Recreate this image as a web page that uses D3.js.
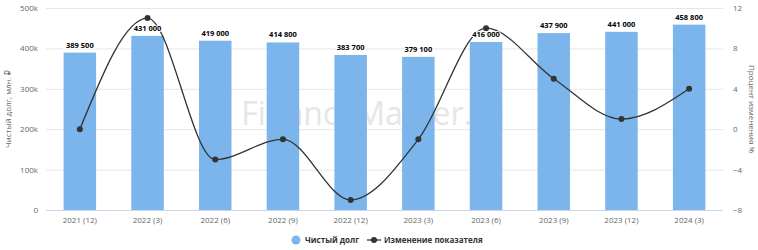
<!DOCTYPE html>
<html>
<head>
<meta charset="utf-8">
<script src="https://cdn.jsdelivr.net/npm/d3@7"></script>
<style>
  body { margin: 0; background: #fff; }
  svg { font-family: "Open Sans", "DejaVu Sans", sans-serif; }
</style>
</head>
<body>
<svg id="chart" width="758" height="250"></svg>
<script>
// data
var categories = ["2021 (12)", "2022 (3)", "2022 (6)", "2022 (9)", "2022 (12)",
                  "2023 (3)", "2023 (6)", "2023 (9)", "2023 (12)", "2024 (3)"];
var netDebt = [389500, 431000, 419000, 414800, 383700, 379100, 416000, 437900, 441000, 458800];
var changePct = [0, 11, -3, -1, -7, -1, 10, 5, 1, 4];
var leftTicks = [0, 100000, 200000, 300000, 400000, 500000];
var leftTickLabels = ["0", "100k", "200k", "300k", "400k", "500k"];
var rightTicks = [-8, -4, 0, 4, 8, 12];

var plotLeft = 46, plotRight = 723, plotTop = 8, plotBottom = 210;

var svg = d3.select("#chart");

var x = d3.scaleBand()
    .domain(categories)
    .range([plotLeft, plotRight])
    .paddingInner(0.52)
    .paddingOuter(0.26);

var y = d3.scaleLinear().domain([0, 500000]).range([plotBottom, plotTop]);
var y2 = d3.scaleLinear().domain([-8, 12]).range([plotBottom, plotTop]);

// watermark
svg.append("text")
    .attr("x", 373).attr("y", 125)
    .attr("text-anchor", "middle")
    .attr("font-size", 32)
    .attr("fill", "#e6e6e6")
    .text("FinanceMarker.ru");

// grid
svg.append("g").selectAll("line")
    .data(leftTicks)
  .enter().append("line")
    .attr("x1", plotLeft).attr("x2", plotRight)
    .attr("y1", function(d) { return y(d) + 0.5; })
    .attr("y2", function(d) { return y(d) + 0.5; })
    .attr("stroke", function(d) { return d === 0 ? "#ccd6eb" : "#e6e6e6"; })
    .attr("stroke-width", 1);

// left axis labels
svg.append("g").selectAll("text")
    .data(leftTicks)
  .enter().append("text")
    .attr("x", 38)
    .attr("y", function(d) { return y(d) + 3; })
    .attr("text-anchor", "end")
    .attr("font-size", 8)
    .attr("fill", "#666")
    .text(function(d, i) { return leftTickLabels[i]; });

// right axis labels
svg.append("g").selectAll("text")
    .data(rightTicks)
  .enter().append("text")
    .attr("x", 733)
    .attr("y", function(d) { return y2(d) + 3; })
    .attr("text-anchor", "start")
    .attr("font-size", 8)
    .attr("fill", "#666")
    .text(function(d) { return d < 0 ? "\u2212" + Math.abs(d) : d; });

// axis titles
svg.append("text")
    .attr("transform", "translate(11," + ((plotTop + plotBottom) / 2) + ") rotate(-90)")
    .attr("text-anchor", "middle")
    .attr("font-size", 8)
    .attr("fill", "#666")
    .text("Чистый долг, млн. ₽");

svg.append("text")
    .attr("transform", "translate(749," + ((plotTop + plotBottom) / 2) + ") rotate(90)")
    .attr("text-anchor", "middle")
    .attr("font-size", 8)
    .attr("fill", "#666")
    .text("Процент изменения %");

// bars
svg.append("g").selectAll("rect")
    .data(netDebt)
  .enter().append("rect")
    .attr("x", function(d, i) { return x(categories[i]); })
    .attr("y", function(d) { return y(d); })
    .attr("width", x.bandwidth())
    .attr("height", function(d) { return plotBottom - y(d); })
    .attr("fill", "#7cb5ec");

// line
var line = d3.line()
    .x(function(d, i) { return x(categories[i]) + x.bandwidth() / 2; })
    .y(function(d) { return y2(d); })
    .curve(d3.curveMonotoneX);

svg.append("path")
    .datum(changePct)
    .attr("d", line)
    .attr("fill", "none")
    .attr("stroke", "#333")
    .attr("stroke-width", 1.3);

svg.append("g").selectAll("circle")
    .data(changePct)
  .enter().append("circle")
    .attr("cx", function(d, i) { return x(categories[i]) + x.bandwidth() / 2; })
    .attr("cy", function(d) { return y2(d); })
    .attr("r", 3)
    .attr("fill", "#333");

// bar value labels
svg.append("g").selectAll("text")
    .data(netDebt)
  .enter().append("text")
    .attr("x", function(d, i) { return x(categories[i]) + x.bandwidth() / 2; })
    .attr("y", function(d) { return y(d) - 5; })
    .attr("text-anchor", "middle")
    .attr("font-size", 7.5)
    .attr("font-weight", "bold")
    .attr("fill", "#000")
    .attr("stroke", "#fff")
    .attr("stroke-width", 2)
    .attr("paint-order", "stroke")
    .text(function(d) { return d3.format(",")(d).replace(/,/g, " "); });

// x labels
svg.append("g").selectAll("text")
    .data(categories)
  .enter().append("text")
    .attr("x", function(d) { return x(d) + x.bandwidth() / 2; })
    .attr("y", 223)
    .attr("text-anchor", "middle")
    .attr("font-size", 8)
    .attr("fill", "#666")
    .text(function(d) { return d; });

// legend
var lg = svg.append("g").attr("transform", "translate(0,240)");
lg.append("circle").attr("cx", 296).attr("cy", 0).attr("r", 4.5).attr("fill", "#7cb5ec");
lg.append("text").attr("x", 305).attr("y", 3)
    .attr("font-size", 8).attr("font-weight", "bold").attr("fill", "#333")
    .text("Чистый долг");
lg.append("line").attr("x1", 367).attr("x2", 381).attr("y1", 0).attr("y2", 0)
    .attr("stroke", "#333").attr("stroke-width", 1.3);
lg.append("circle").attr("cx", 374).attr("cy", 0).attr("r", 3).attr("fill", "#333");
lg.append("text").attr("x", 384).attr("y", 3)
    .attr("font-size", 8).attr("font-weight", "bold").attr("fill", "#333")
    .text("Изменение показателя");
</script>
</body>
</html>
